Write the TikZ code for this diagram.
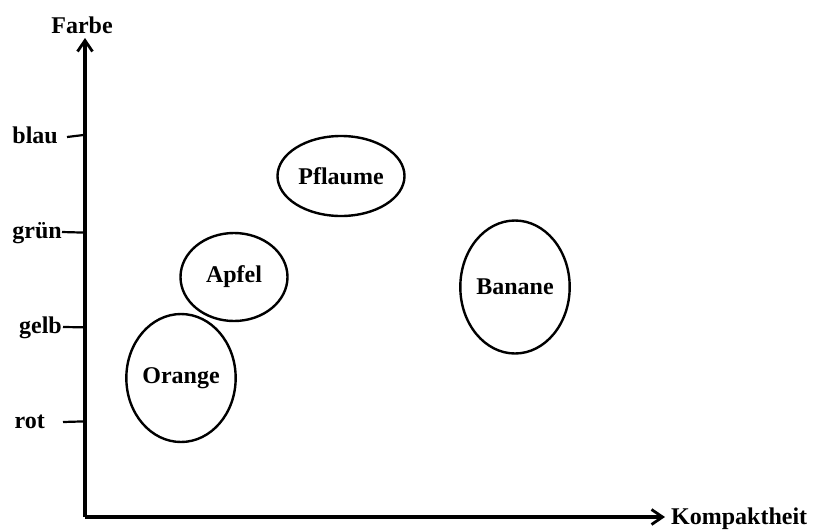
\documentclass[tikz,border=0pt]{standalone}
\usepackage{fontspec}
\setmainfont{Liberation Serif}
\usetikzlibrary{positioning}
\usetikzlibrary{arrows.meta,shapes.geometric}

\tikzset{
  achse/.style={line width=3.2pt,-{Straight Barb[length=11pt,width=15pt,line width=2.8pt]}},
  strich/.style={line width=2.2pt},
  lbl/.style={font=\fontsize{24}{28}\selectfont\bfseries,inner sep=0pt},
  frucht/.style={ellipse,draw,line width=2.4pt,inner sep=0pt,font=\fontsize{24}{28}\selectfont\bfseries}
}

\begin{document}
\begin{tikzpicture}[x=1pt,y=-1pt]
\useasboundingbox (0,0) rectangle (814,531);

\coordinate (O) at (85,517);
\coordinate (ytop) at (85,38);
\coordinate (xend) at (665,517);

\draw[achse] (O) -- (ytop);
\draw[achse] (O) -- (xend);
\node[lbl,anchor=base] (farbe) at (82,33) {Farbe};
\node[lbl,anchor=base west] (kompakt) at (671,524) {Kompaktheit};

\node[lbl,anchor=base east] (blau) at (58,143) {blau};
\node[lbl,anchor=base east] (gruen) at (62,238) {grün};
\node[lbl,anchor=base east] (gelb) at (62,333) {gelb};
\node[lbl,anchor=base east] (rot) at (45,428) {rot};
\draw[strich] (67,137) -- (blau -| O);
\draw[strich] (62,232) -- (gruen -| O);
\draw[strich] (63,327) -- (gelb -| O);
\draw[strich] (63,422) -- (rot -| O);

\node[frucht,minimum width=127pt,minimum height=80pt] (pflaume) at (341,176) {Pflaume};
\node[frucht,minimum width=107pt,minimum height=88pt] (apfel) at (234,277) {Apfel};
\node[frucht,minimum width=95pt,minimum height=128pt] (orange) at (181,378) {Orange};
\node[frucht,minimum width=97pt,minimum height=133pt] (banane) at (515,287) {Banane};

\end{tikzpicture}
\end{document}
